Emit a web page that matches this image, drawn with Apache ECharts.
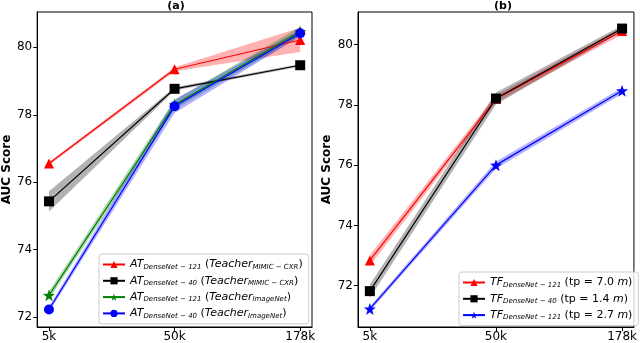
<!DOCTYPE html>
<html>
<head>
<meta charset="utf-8">
<script src="https://cdn.jsdelivr.net/npm/echarts@6/dist/echarts.min.js"></script>
<style>
  html, body { margin: 0; padding: 0; background: #fff; }
  #chart { width: 640px; height: 343px; }
</style>
</head>
<body>
<div id="chart"></div>
<script>
// x positions and labels shared by both panels
const xLabels = ['5k', '50k', '178k']
const xIdx = [0, 1, 2]
const yTicks = [72, 74, 76, 78, 80]

// panel (a)
const atD121Mimic = [76.55, 79.35, 80.22]
const atD121MimicSpread = [0.05, 0.06, 0.36]
const atD40Mimic = [75.43, 78.77, 79.47]
const atD40MimicSpread = [0.3, 0.05, 0.04]
const atD121Img = [72.64, 78.3, 80.47]
const atD121ImgSpread = [0.12, 0.14, 0.14]
const atD40Img = [72.22, 78.25, 80.42]
const atD40ImgSpread = [0.08, 0.2, 0.1]

// panel (b)
const tfD121a = [72.84, 78.2, 80.45]
const tfD121aSpread = [0.18, 0.12, 0.12]
const tfD40 = [71.82, 78.21, 80.53]
const tfD40Spread = [0.22, 0.2, 0.1]
const tfD121b = [71.23, 76.0, 78.47]
const tfD121bSpread = [0.08, 0.12, 0.1]

const starPath = 'path://M0,-10 L2.35,-3.24 9.51,-3.09 3.8,1.24 5.88,8.09 0,4 -5.88,8.09 -3.8,1.24 -9.51,-3.09 -2.35,-3.24 Z'

const legendText = {
  a1: '{i|AT}{s|DenseNet − 121} ({i|Teacher}{s|MIMIC − CXR})',
  a2: '{i|AT}{s|DenseNet − 40} ({i|Teacher}{s|MIMIC − CXR})',
  a3: '{i|AT}{s|DenseNet − 121} ({i|Teacher}{s|ImageNet})',
  a4: '{i|AT}{s|DenseNet − 40} ({i|Teacher}{s|ImageNet})',
  b1: '{i|TF}{s|DenseNet − 121} (tp = 7.0 {i|m})',
  b2: '{i|TF}{s|DenseNet − 40} (tp = 1.4 {i|m})',
  b3: '{i|TF}{s|DenseNet − 121} (tp = 2.7 {i|m})',
}

// shaded band drawn as one polygon through the lo/hi values
function bandSeries(panel, vals, spread, color) {
  const data = xIdx.map((x, i) => [x, vals[i] - spread[i], vals[i] + spread[i]])
  return {
    type: 'custom', xAxisIndex: panel, yAxisIndex: panel, silent: true, z: 1,
    data, encode: { x: 0, y: [1, 2] },
    renderItem: (params, api) => {
      if (params.dataIndex !== 0) return null
      const n = data.length
      const upper = []
      const lower = []
      for (let i = 0; i < n; i++) {
        upper.push(api.coord([api.value(0, i), api.value(2, i)]))
        lower.unshift(api.coord([api.value(0, i), api.value(1, i)]))
      }
      return {
        type: 'polygon',
        shape: { points: upper.concat(lower) },
        style: { fill: color, opacity: 0.3 },
      }
    },
  }
}

function mainSeries(id, panel, vals, color, symbol, size) {
  return {
    type: 'line', name: id, xAxisIndex: panel, yAxisIndex: panel,
    data: xIdx.map((x, i) => [x, vals[i]]), symbol, symbolSize: size,
    lineStyle: { color, width: 1.2 }, itemStyle: { color }, z: 3,
  }
}

const richStyle = {
  i: { fontFamily: 'DejaVu Sans', fontStyle: 'italic', fontSize: 11, color: '#000', lineHeight: 13 },
  s: { fontFamily: 'DejaVu Sans', fontStyle: 'italic', fontSize: 7, color: '#000', lineHeight: 13, padding: [5, 0, 0, 0] },
}

function yAxis(gridIndex, min, max) {
  return {
    type: 'value', gridIndex, min, max,
    name: 'AUC Score', nameLocation: 'middle', nameGap: gridIndex === 0 ? 21 : 25,
    nameTextStyle: { fontFamily: 'DejaVu Sans', fontWeight: 'bold', fontSize: 12, color: '#000' },
    axisLine: { show: true, onZero: false, lineStyle: { color: '#000' } },
    axisTick: { show: true, length: 4, customValues: yTicks, lineStyle: { color: '#000' } },
    axisLabel: { customValues: yTicks, fontFamily: 'DejaVu Sans', fontSize: 12, color: '#000', margin: 5 },
    splitLine: { show: false },
  }
}

function xAxis(gridIndex) {
  return {
    type: 'value', gridIndex, min: -0.094, max: 2.094,
    axisLine: { show: true, onZero: false, lineStyle: { color: '#000' } },
    axisTick: { show: true, length: 4, customValues: xIdx, lineStyle: { color: '#000' } },
    axisLabel: {
      customValues: xIdx, fontFamily: 'DejaVu Sans', fontSize: 12, color: '#000', margin: 4,
      formatter: v => xLabels[Math.round(v)],
    },
    splitLine: { show: false },
  }
}

function legend(names, left, top) {
  return {
    data: names, orient: 'vertical', left, top,
    itemWidth: 22, itemHeight: 9, itemGap: 3.3, padding: [4, 6, 4, 3],
    borderColor: '#ccc', borderWidth: 1, borderRadius: 3, backgroundColor: 'rgba(255,255,255,0.8)',
    formatter: n => legendText[n],
    textStyle: { fontFamily: 'DejaVu Sans', fontSize: 11, color: '#000', lineHeight: 13, rich: richStyle },
  }
}

const chart = echarts.init(document.getElementById('chart'))
chart.setOption({
  animation: false,
  backgroundColor: '#fff',
  title: [
    { text: '(a)', left: 171, top: -4, textAlign: 'center', textStyle: { fontFamily: 'DejaVu Sans', fontSize: 11, fontWeight: 'bold', color: '#000' } },
    { text: '(b)', left: 498, top: -4, textAlign: 'center', textStyle: { fontFamily: 'DejaVu Sans', fontSize: 11, fontWeight: 'bold', color: '#000' } },
  ],
  grid: [
    { left: 32, right: 328, top: 12, bottom: 11, show: true, borderColor: '#000', borderWidth: 1 },
    { left: 358, right: 2, top: 12, bottom: 11, show: true, borderColor: '#000', borderWidth: 1 },
  ],
  xAxis: [xAxis(0), xAxis(1)],
  yAxis: [yAxis(0, 71.7, 81.05), yAxis(1, 70.63, 81.08)],
  legend: [legend(['a1', 'a2', 'a3', 'a4'], 99, 254), legend(['b1', 'b2', 'b3'], 459, 272)],
  series: [
    bandSeries(0, atD121Mimic, atD121MimicSpread, '#ff0000'),
    bandSeries(0, atD40Mimic, atD40MimicSpread, '#000000'),
    bandSeries(0, atD121Img, atD121ImgSpread, '#008000'),
    bandSeries(0, atD40Img, atD40ImgSpread, '#0000ff'),
    mainSeries('a1', 0, atD121Mimic, '#ff0000', 'triangle', 10),
    mainSeries('a2', 0, atD40Mimic, '#000000', 'rect', 10),
    mainSeries('a3', 0, atD121Img, '#008000', starPath, 12),
    mainSeries('a4', 0, atD40Img, '#0000ff', 'circle', 10),
    bandSeries(1, tfD121a, tfD121aSpread, '#ff0000'),
    bandSeries(1, tfD40, tfD40Spread, '#000000'),
    bandSeries(1, tfD121b, tfD121bSpread, '#0000ff'),
    mainSeries('b1', 1, tfD121a, '#ff0000', 'triangle', 10),
    mainSeries('b2', 1, tfD40, '#000000', 'rect', 10),
    mainSeries('b3', 1, tfD121b, '#0000ff', starPath, 12),
  ],
})
</script>
</body>
</html>
